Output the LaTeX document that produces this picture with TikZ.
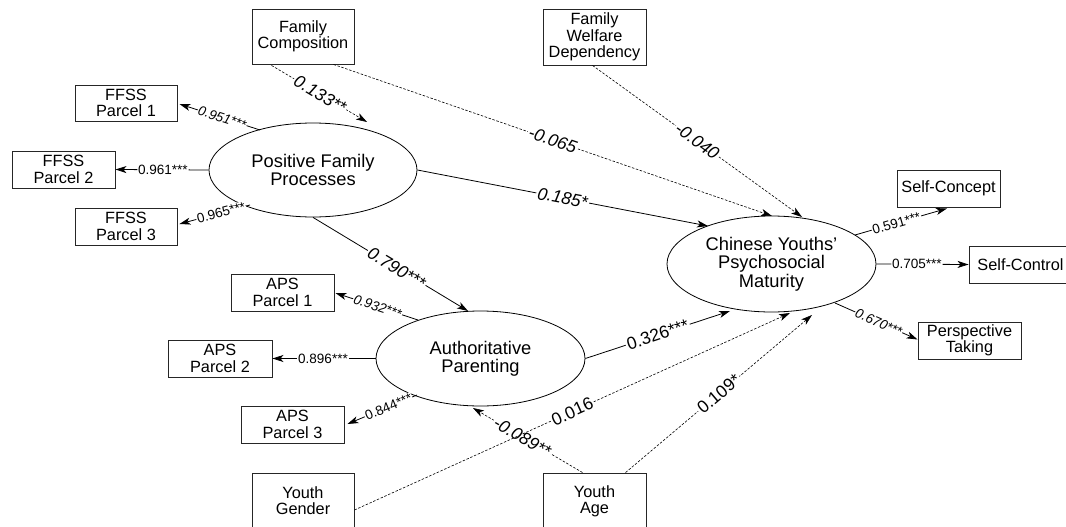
\documentclass[tikz,border=0pt]{standalone}
\usepackage{fontspec}
\setmainfont{Liberation Sans}
\usetikzlibrary{shapes.geometric,arrows.meta,calc}
\begin{document}
\begin{tikzpicture}[x=1pt,y=-1pt,
  box/.style={draw=black!85, line width=0.9pt, align=center, inner sep=0pt,
    font=\fontsize{16.3}{16.3}\selectfont},
  lat/.style={ellipse, draw, line width=0.8pt, align=center, inner sep=0pt,
    minimum width=208pt, minimum height=95pt, font=\fontsize{18.3}{18.3}\selectfont},
  conn/.style={line width=0.8pt, -{Stealth[length=11pt,width=7pt,inset=3pt]}},
  dconn/.style={conn, line width=0.6pt, dash pattern=on 2.5pt off 1.6pt},
  big/.style={sloped, fill=white, inner sep=1.5pt, font=\fontsize{17.5}{17.5}\selectfont},
  bigi/.style={big, font=\fontsize{17.5}{17.5}\selectfont\itshape},
  small/.style={sloped, fill=white, inner sep=0.8pt, font=\fontsize{13.5}{13.5}\selectfont},
  smalli/.style={small, font=\fontsize{13.5}{13.5}\selectfont\itshape},
]
\useasboundingbox (0,0) rectangle (1066,527);
\clip (0,0) rectangle (1066,527);
% observed boxes
\node[box, minimum width=102pt, minimum height=55pt] (fc) at (303,36.5) {Family\\Composition};
\node[box, minimum width=103pt, minimum height=56pt, font=\fontsize{16.3}{16.7}\selectfont] (fwd) at (594.5,37) {Family\\Welfare\\Dependency};
\node[box, minimum width=102pt, minimum height=36pt] (f1) at (126,103) {FFSS\\Parcel 1};
\node[box, minimum width=103pt, minimum height=37pt] (f2) at (63.5,169.5) {FFSS\\Parcel 2};
\node[box, minimum width=102pt, minimum height=37pt] (f3) at (126,226.5) {FFSS\\Parcel 3};
\node[box, minimum width=103pt, minimum height=37pt] (a1) at (282.5,292.5) {APS\\Parcel 1};
\node[box, minimum width=104pt, minimum height=37pt] (a2) at (220,358.5) {APS\\Parcel 2};
\node[box, minimum width=103pt, minimum height=37pt] (a3) at (292.5,424.5) {APS\\Parcel 3};
\node[box, minimum width=102pt, minimum height=56pt] (yg) at (303,501) {Youth\\Gender};
\node[box, minimum width=103pt, minimum height=56pt] (ya) at (594.5,501) {Youth\\Age};
\node[box, minimum width=103pt, minimum height=37pt] (sc) at (948.5,188.5) {Self-Concept};
\node[box, minimum width=106pt, minimum height=37pt] (sctl) at (1022,264.5) {Self-Control\hspace*{3pt}};
\node[box, minimum width=103pt, minimum height=37pt] (pt) at (969.5,340.5) {Perspective\\Taking};
% latent variables
\node[lat, minimum width=208pt, minimum height=94pt] (pfp) at (313,170) {Positive Family\\Processes};
\node[lat, minimum width=209pt, minimum height=96pt] (cyp) at (771.5,264) {Chinese Youths'\\Psychosocial\\Maturity};
\node[lat, minimum width=209pt, minimum height=95pt] (ap) at (480.5,358.5) {Authoritative\\Parenting};
% structural paths
\draw[dconn] ($(fc.south west)+(20,1)$) -- node[bigi, pos=0.51] {0.133**} ($(pfp.center)+(54,-48)$);
\draw[dconn] ($(fc.south west)+(82,0)$) -- node[bigi, pos=0.5] {-0.065} ($(cyp.center)+(0.5,-48)$);
\draw[dconn] ($(fwd.south west)+(50,0)$) -- node[bigi, pos=0.5] {-0.040} ($(cyp.center)+(30.5,-47)$);
\draw[conn] (pfp.east) -- node[bigi, pos=0.5] {0.185*} ($(cyp.center)+(-63.5,-38)$);
\draw[conn] (pfp.south) -- node[bigi, pos=0.54] {0.790***} ($(ap.center)+(-12.5,-47.5)$);
\draw[conn] (ap.east) -- node[big, pos=0.5] {0.326***} ($(cyp.center)+(-41.5,47)$);
\draw[dconn] ($(ya.north west)+(40,0)$) -- node[bigi, pos=0.55] {-0.089**} ($(ap.center)+(-7.5,49.5)$);
\draw[dconn] ($(yg.east)+(0,9)$) -- node[big, pos=0.5] {0.016} ($(cyp.center)+(18.5,49)$);
\draw[dconn] ($(ya.north west)+(83,0)$) -- node[big, pos=0.5] {0.109*} ($(cyp.center)+(40.5,51)$);
% measurement paths
\draw[conn] ($(pfp.center)+(-53,-40)$) -- node[smalli, pos=0.47] {0.951***} ($(f1.east)+(2,1)$);
\draw[conn] (pfp.west) -- node[small, pos=0.49] {0.961***} (f2.east);
\draw[conn] ($(pfp.center)+(-63,35)$) -- node[small, pos=0.41] {0.965***} ($(f3.east)+(2,-2.5)$);
\draw[conn] ($(ap.center)+(-62.5,-38.5)$) -- node[smalli, pos=0.49] {0.932***} ($(a1.east)+(1,0.5)$);
\draw[conn] (ap.west) -- node[small, pos=0.51] {0.896***} (a2.east);
\draw[conn] ($(ap.center)+(-63.5,36.5)$) -- node[small, pos=0.41] {0.844***} ($(a3.east)+(3,-0.5)$);
\draw[conn] ($(cyp.center)+(83.5,-29)$) -- node[small, pos=0.45] {0.591***} ($(sc.south)+(-1.5,1)$);
\draw[conn] (cyp.east) -- node[small, pos=0.44] {0.705***} (sctl.west);
\draw[conn] ($(cyp.center)+(63.5,39)$) -- node[smalli, pos=0.53] {0.670***} ($(pt.west)+(0,-1)$);
\end{tikzpicture}
\end{document}
